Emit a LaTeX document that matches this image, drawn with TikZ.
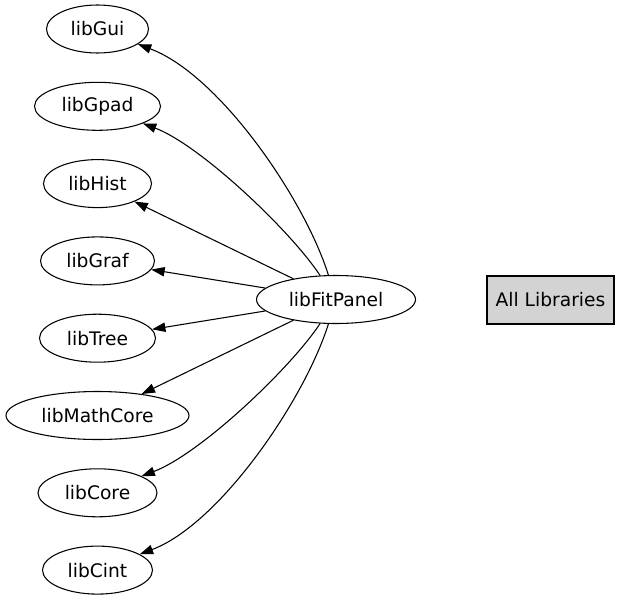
\documentclass[tikz,border=0pt]{standalone}
\usepackage{fontspec}
\setmainfont{DejaVu Sans}
\usetikzlibrary{shapes.geometric,arrows.meta}
\definecolor{boxfill}{RGB}{211,211,211}
\tikzset{
  libnode/.style={draw=black, line width=0.8pt, ellipse, inner sep=0pt, minimum height=36pt, font=\fontsize{14}{16}\selectfont},
  allbox/.style={draw=black, line width=0.8pt, fill=boxfill, rectangle, inner sep=0pt, minimum width=95.25pt, minimum height=36pt, font=\fontsize{14}{16}\selectfont},
  dep/.style={draw=black, line width=0.8pt, -{Triangle[length=10pt,width=7pt]}}
}
\begin{document}
\begin{tikzpicture}[x=0.75pt,y=-0.75pt]
\useasboundingbox (0,0) rectangle (621,600);
\node[libnode, minimum width=76.5pt]   (gui)  at (97.5,29.0)  {libGui};
\node[libnode, minimum width=94.5pt]   (gpad) at (97.5,106.3) {libGpad};
\node[libnode, minimum width=81pt]     (hist) at (97.5,183.6) {libHist};
\node[libnode, minimum width=85.5pt]   (graf) at (97.5,260.9) {libGraf};
\node[libnode, minimum width=87pt]     (tree) at (97.5,338.2) {libTree};
\node[libnode, minimum width=137.25pt] (math) at (97.5,415.5) {libMathCore};
\node[libnode, minimum width=89.25pt]  (core) at (97.5,492.8) {libCore};
\node[libnode, minimum width=82.5pt]   (cint) at (97.5,570.1) {libCint};
\node[libnode, minimum width=119.25pt] (fp)   at (336,299.5)  {libFitPanel};
\node[allbox] (all) at (550.5,300) {All Libraries};
\draw[dep] (fp) .. controls (305,200) and (220,75) .. (gui);
\draw[dep] (fp) .. controls (290,230) and (200,145) .. (gpad);
\draw[dep] (fp) -- (hist);
\draw[dep] (fp) -- (graf);
\draw[dep] (fp) -- (tree);
\draw[dep] (fp) -- (math);
\draw[dep] (fp) .. controls (290,369) and (200,454) .. (core);
\draw[dep] (fp) .. controls (305,399) and (220,524) .. (cint);
\end{tikzpicture}
\end{document}
